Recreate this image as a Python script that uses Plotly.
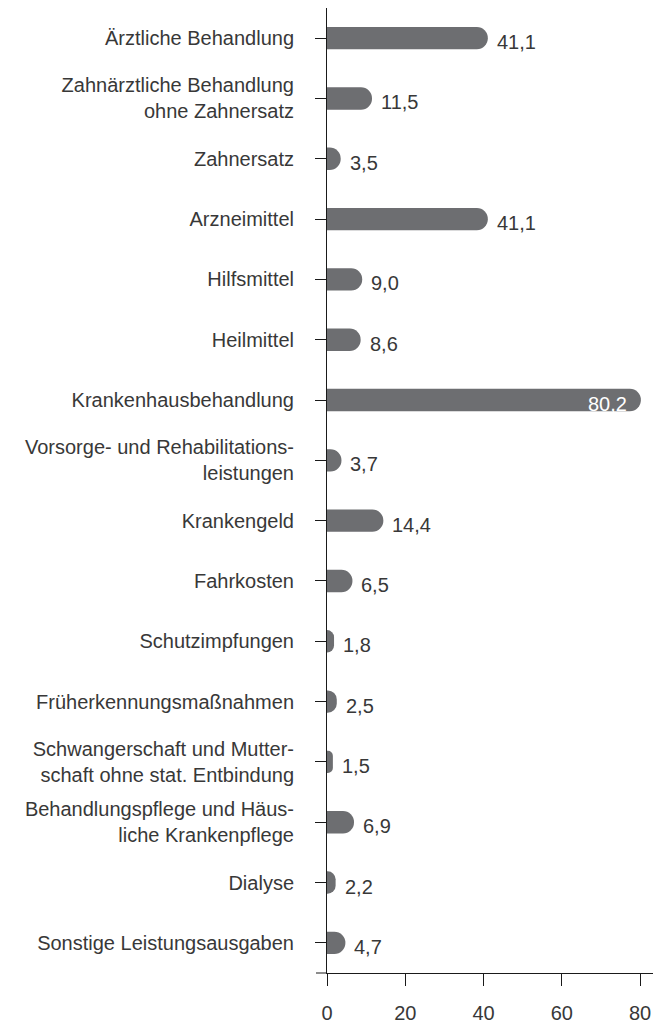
import plotly.graph_objects as go

categories = [
    "Ärztliche Behandlung",
    "Zahnärztliche Behandlung<br>ohne Zahnersatz",
    "Zahnersatz",
    "Arzneimittel",
    "Hilfsmittel",
    "Heilmittel",
    "Krankenhausbehandlung",
    "Vorsorge- und Rehabilitations-<br>leistungen",
    "Krankengeld",
    "Fahrkosten",
    "Schutzimpfungen",
    "Früherkennungsmaßnahmen",
    "Schwangerschaft und Mutter-<br>schaft ohne stat. Entbindung",
    "Behandlungspflege und Häus-<br>liche Krankenpflege",
    "Dialyse",
    "Sonstige Leistungsausgaben",
]
values = [41.1, 11.5, 3.5, 41.1, 9.0, 8.6, 80.2, 3.7, 14.4, 6.5, 1.8, 2.5, 1.5, 6.9, 2.2, 4.7]
value_labels = [f"{v:.1f}".replace(".", ",") for v in values]
x_ticks = [0, 20, 40, 60, 80]

FONT = "Liberation Sans, Arial, sans-serif"
TEXT = "#383838"
BAR = "#6d6e71"
LINE = "#1a1a1a"

fig = go.Figure(go.Bar(
    x=values, y=categories, orientation="h",
    marker=dict(color=BAR, cornerradius=11, line=dict(width=0)),
    width=0.37, hoverinfo="skip",
))

# value labels: outside the bar, except the long one which sits inside in white
annotations = []
inside_limit = 70
for cat, v, lab in zip(categories, values, value_labels):
    inside = v > inside_limit
    annotations.append(dict(
        x=v, y=cat, xref="x", yref="y", text=lab, showarrow=False,
        xanchor="right" if inside else "left",
        xshift=-12 if inside else 7, yshift=-4,
        font=dict(family=FONT, size=20, color="white" if inside else TEXT),
    ))

fig.update_layout(
    width=655, height=1023,
    margin=dict(l=327, r=2, t=8, b=50, autoexpand=False),
    paper_bgcolor="white", plot_bgcolor="white",
    showlegend=False,
    font=dict(family=FONT, size=20, color=TEXT),
    annotations=annotations,
    xaxis=dict(
        range=[0, 83.3], tickvals=x_ticks, ticktext=[str(t) for t in x_ticks],
        showgrid=False, zeroline=False, showline=True, linecolor=LINE, linewidth=1,
        ticks="outside", ticklen=12, tickcolor=LINE, tickwidth=1,
        ticklabelstandoff=10,
        tickfont=dict(family=FONT, size=20, color=TEXT), fixedrange=True,
        automargin=False,
    ),
    yaxis=dict(
        categoryorder="array", categoryarray=categories,
        autorange="reversed", range=[15.5, -0.5],
        showgrid=False, zeroline=False, showline=True, linecolor=LINE, linewidth=1,
        ticks="outside", ticklen=11, tickcolor=LINE, tickwidth=1,
        ticklabelstandoff=17,
        tickfont=dict(family=FONT, size=20, color=TEXT), fixedrange=True,
        automargin=False,
    ),
    shapes=[dict(
        type="line", xref="paper", yref="paper",
        x0=-11 / 326, x1=0, y0=0, y1=0,
        line=dict(color=LINE, width=1),
    )],
)

# drop the browser's default 8px body margin so the figure sits at the page corner
fig.write_html("out.html", config={"displayModeBar": False},
               post_script="document.body.style.margin='0';")
